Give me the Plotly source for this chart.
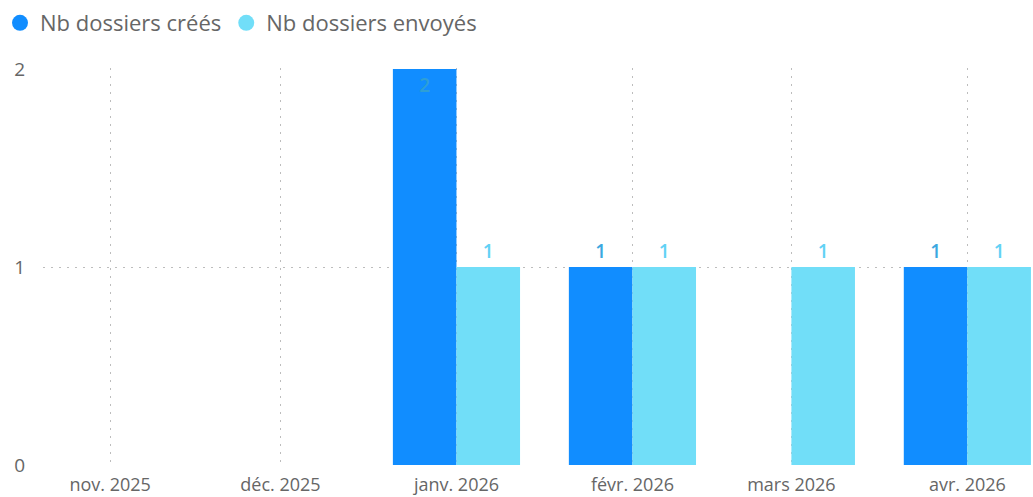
import plotly.graph_objects as go

months = ["2025-11-01", "2025-12-01", "2026-01-01", "2026-02-01", "2026-03-01", "2026-04-01"]
month_labels = ["nov. 2025", "déc. 2025", "janv. 2026", "févr. 2026", "mars 2026", "avr. 2026"]
created = [None, None, 2, 1, None, 1]
sent = [None, None, 1, 1, 1, 1]
names = ["Nb dossiers créés", "Nb dossiers envoyés"]

C_DARK = "#118DFF"
C_LIGHT = "#71DEF8"
DAY = 86400000
BAR_W = 11.2 * DAY
FONT = "Open Sans"
GRID = "#BDBDBD"

ymax = 2

def positions(vals):
    return ["inside" if (v is not None and v >= ymax) else "outside" for v in vals]

def txt(vals):
    return ["" if v is None else str(v) for v in vals]

fig = go.Figure()
fig.add_trace(go.Bar(
    x=months, y=created, name=names[0], marker=dict(color=C_DARK, line=dict(width=0)),
    width=[BAR_W] * len(months), offset=-BAR_W,
    text=txt(created), textposition=positions(created), insidetextanchor="end",
    textfont=dict(size=19, weight=600, family=FONT,
                  color=["#2E9FD6" if (v is not None and v >= ymax) else "#3BA8E0" for v in created]),
    cliponaxis=False, showlegend=False,
))
fig.add_trace(go.Bar(
    x=months, y=sent, name=names[1], marker=dict(color=C_LIGHT, line=dict(width=0)),
    width=[BAR_W] * len(months), offset=0,
    text=txt(sent), textposition=positions(sent), insidetextanchor="end",
    textfont=dict(size=19, weight=600, color="#62D2F5", family=FONT),
    cliponaxis=False, showlegend=False,
))
# legend entries with circular markers
for nm, col in zip(names, [C_DARK, C_LIGHT]):
    fig.add_trace(go.Scatter(x=[None], y=[None], mode="markers", name=nm,
                             marker=dict(symbol="circle", size=17, color=col)))

fig.update_layout(
    width=1033, height=497,
    margin=dict(l=43, r=2, t=68, b=31, autoexpand=False),
    paper_bgcolor="white", plot_bgcolor="white",
    font=dict(family=FONT, color="#666666"),
    barmode="overlay",
    showlegend=True,
    legend=dict(orientation="h", xref="container", yref="container",
                x=0.0, xanchor="left", y=1 - 23 / 497, yanchor="middle",
                font=dict(size=22, color="#666666"), itemwidth=30, tracegroupgap=0,
                bgcolor="rgba(0,0,0,0)"),
)
fig.update_xaxes(
    type="date", automargin=False,
    range=["2025-10-20 04:00", "2026-04-12 05:00"],
    tickvals=months, ticktext=month_labels,
    tickfont=dict(size=18, color="#666666"),
    showgrid=True, gridcolor=GRID, griddash="2px,6px", gridwidth=1,
    zeroline=False, showline=False, ticks="", ticklabelstandoff=6,
)
fig.update_yaxes(
    range=[-0.005, ymax + 0.005], tickvals=[0, 1, 2], automargin=False,
    tickfont=dict(size=19, color="#666666"),
    showgrid=True, gridcolor=GRID, griddash="2px,6px", gridwidth=1,
    zeroline=False, showline=False, ticks="", ticklabelstandoff=17,
)

fig.write_html("out.html", config={"displayModeBar": False},
               post_script="document.body.style.margin='0';document.body.style.overflow='hidden';")
